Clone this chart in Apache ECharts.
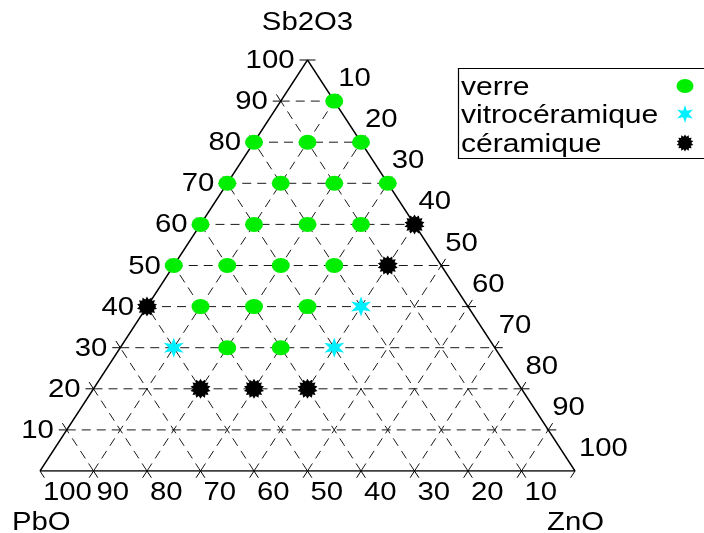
<!DOCTYPE html>
<html>
<head>
<meta charset="utf-8">
<script src="https://cdn.jsdelivr.net/npm/echarts@6/dist/echarts.min.js"></script>
<style>
html,body{margin:0;padding:0;background:#fff;}
#chart{width:704px;height:533px;}
</style>
</head>
<body>
<div id="chart"></div>
<script>
// ---- data (compositions as [PbO, ZnO, Sb2O3] in %) ----
var verre = [
  [0,10,90],
  [20,0,80],[10,10,80],[0,20,80],
  [30,0,70],[20,10,70],[10,20,70],[0,30,70],
  [40,0,60],[30,10,60],[20,20,60],[10,30,60],
  [50,0,50],[40,10,50],[30,20,50],[20,30,50],
  [50,10,40],[40,20,40],[30,30,40],
  [50,20,30],[40,30,30]
];
var vitroceramique = [[20,40,40],[60,10,30],[30,40,30]];
var ceramique = [[0,40,60],[10,40,50],[60,0,40],[60,20,20],[50,30,20],[40,40,20]];
var seriesNames = ['verre','vitrocéramique','céramique'];
var gridValues = [10,20,30,40,50,60,70,80,90];
var leftTicks = ['10','20','30','40','50','60','70','80','90','100'];     // Sb2O3
var rightTicks = ['10','20','30','40','50','60','70','80','90','100'];    // ZnO
var bottomTicks = ['100','90','80','70','60','50','40','30','20','10'];   // PbO
var vertexNames = ['Sb2O3','PbO','ZnO'];

// ternary -> cartesian data coords (x in 0..100, y in 0..100)
function tern(c){ return [c[1] + c[2]/2, c[2]]; }

// grid lines
var lines = [];
gridValues.forEach(function(v){
  var a, b;
  a = tern([100-v,0,v]); b = tern([0,100-v,v]);
  lines.push([a[0],a[1],b[0],b[1],1,0,1,1]);
  a = tern([100-v,v,0]); b = tern([0,v,100-v]);
  lines.push([a[0],a[1],b[0],b[1],0.5,1,1,1]);
  a = tern([v,100-v,0]); b = tern([v,0,100-v]);
  lines.push([a[0],a[1],b[0],b[1],-0.5,1,1,1]);
});
var apex = tern([0,0,100]), bl = tern([100,0,0]), br = tern([0,100,0]);
lines.push([apex[0],apex[1],apex[0],apex[1],1,0,1,1]);
lines.push([br[0],br[1],br[0],br[1],0.5,1,1,0]);
lines.push([bl[0],bl[1],bl[0],bl[1],-0.5,1,1,0]);

var outline = [bl, br, apex, bl];

function starPath(n, rOut, rIn){
  var s = 'path://';
  for (var i=0;i<2*n;i++){
    var ang = (-90 + i*180/n) * Math.PI/180;
    var r = (i%2) ? rIn : rOut;
    s += (i?'L':'M') + (50+r*Math.cos(ang)).toFixed(2) + ',' + (50+r*Math.sin(ang)).toFixed(2);
  }
  return s + 'Z';
}
function starPts(n, rOut, rIn, cx, cy){
  var p = [];
  for (var i=0;i<2*n;i++){
    var ang = (-90 + i*180/n) * Math.PI/180;
    var r = (i%2) ? rIn : rOut;
    p.push([cx+r*Math.cos(ang), cy+r*Math.sin(ang)]);
  }
  return p;
}
var ellipsePath = 'path://M0,50A50,50 0 1 1 100,50A50,50 0 1 1 0,50Z';
var star6 = starPath(6, 50, 21);
var spiky = starPath(14, 50, 37);

var FONT = '25.5px "Liberation Sans", Arial, sans-serif';
var SX = 1.15;
function txt(x, y, text, align, sx){
  return {type:'text', x:x, y:y, scaleX: sx || SX, originX:0, originY:0,
    style:{text:text, font:FONT, fill:'#000', align:align, textAlign:align,
      verticalAlign:'middle', textVerticalAlign:'middle'}};
}

function lineItem(params, api){
  var a = api.coord([api.value(0), api.value(1)]);
  var b = api.coord([api.value(2), api.value(3)]);
  var o = api.coord([0,0]), e = api.coord([api.value(4), api.value(5)]);
  var ux = e[0]-o[0], uy = e[1]-o[1], len = Math.sqrt(ux*ux+uy*uy);
  ux /= len; uy /= len;
  var L = 8, ch = [];
  if (Math.abs(a[0]-b[0]) + Math.abs(a[1]-b[1]) > 0.5) {
    ch.push({type:'line', shape:{x1:a[0],y1:a[1],x2:b[0],y2:b[1]},
      style:{stroke:'#1a1a1a', lineWidth:1, lineDash:[9,6]}});
  }
  if (api.value(6)) ch.push({type:'line', shape:{x1:a[0]-ux*L,y1:a[1]-uy*L,x2:a[0],y2:a[1]},
      style:{stroke:'#000', lineWidth:1}});
  if (api.value(7)) ch.push({type:'line', shape:{x1:b[0],y1:b[1],x2:b[0]+ux*L,y2:b[1]+uy*L},
      style:{stroke:'#000', lineWidth:1}});
  return {type:'group', children:ch};
}

var leftPos = leftTicks.map(function(t){ var v=+t; return tern([100-v,0,v]); });
var rightPos = rightTicks.map(function(t){ var v=+t; return tern([0,v,100-v]); });
var bottomPos = bottomTicks.map(function(t){ var v=+t; return tern([v,100-v,0]); });
var vertexPos = [apex, bl, br];

var chart = echarts.init(document.getElementById('chart'), null, {renderer:'canvas'});
chart.setOption({
  animation:false,
  backgroundColor:'#fff',
  grid:{left:40, right:129, top:60, bottom:62},
  xAxis:{type:'value', min:0, max:100, show:false},
  yAxis:{type:'value', min:0, max:100, show:false},
  series:[
    {type:'custom', name:'grid', clip:false, silent:true, z:1,
      renderItem:lineItem, data:lines},
    {type:'line', name:'outline', data:outline, symbol:'none', silent:true, z:2,
      lineStyle:{color:'#000', width:1.4}},
    {type:'custom', name:'leftLabels', clip:false, silent:true,
      renderItem:function(p, api){ var c = api.coord([api.value(0), api.value(1)]);
        return txt(c[0]-13, c[1]+1, leftTicks[p.dataIndex], 'right'); },
      data:leftPos},
    {type:'custom', name:'rightLabels', clip:false, silent:true,
      renderItem:function(p, api){ var c = api.coord([api.value(0), api.value(1)]);
        return txt(c[0]+4, c[1]-22, rightTicks[p.dataIndex], 'left'); },
      data:rightPos},
    {type:'custom', name:'bottomLabels', clip:false, silent:true,
      renderItem:function(p, api){ var c = api.coord([api.value(0), api.value(1)]);
        return txt(c[0]+3, c[1]+22, bottomTicks[p.dataIndex], 'left'); },
      data:bottomPos},
    {type:'custom', name:'vertexLabels', clip:false, silent:true,
      renderItem:function(p, api){ var c = api.coord([api.value(0), api.value(1)]);
        if (p.dataIndex === 0) return txt(c[0], c[1]-37, vertexNames[0], 'center');
        return txt(c[0]-28, c[1]+52, vertexNames[p.dataIndex], 'left'); },
      data:vertexPos},
    {type:'scatter', name:seriesNames[0], data:verre.map(tern), symbol:ellipsePath,
      symbolSize:[18,15], itemStyle:{color:'#00ee00', opacity:1}, z:5},
    {type:'scatter', name:seriesNames[1], data:vitroceramique.map(tern), symbol:star6,
      symbolSize:20, itemStyle:{color:'#00f0ff', opacity:1}, z:5},
    {type:'scatter', name:seriesNames[2], data:ceramique.map(tern), symbol:spiky,
      symbolSize:20, itemStyle:{color:'#000', opacity:1}, z:5}
  ],
  graphic:[
    {type:'rect', shape:{x:458.5, y:68.5, width:260, height:90},
      style:{fill:'#fff', stroke:'#000', lineWidth:1.2}, z:10},
    (function(){ var t = txt(461, 88, seriesNames[0], 'left', 1.18); t.z=11; return t; })(),
    (function(){ var t = txt(461, 116, seriesNames[1], 'left', 1.18); t.z=11; return t; })(),
    (function(){ var t = txt(461, 145, seriesNames[2], 'left', 1.18); t.z=11; return t; })(),
    {type:'circle', x:685, y:86, scaleY:0.82, shape:{cx:0, cy:0, r:8.5},
      style:{fill:'#00ee00'}, z:11},
    {type:'polygon', shape:{points:starPts(6, 9, 3.8, 685, 114)},
      style:{fill:'#00f0ff'}, z:11},
    {type:'polygon', shape:{points:starPts(14, 8.5, 6.3, 685, 143)},
      style:{fill:'#000'}, z:11}
  ]
});
</script>
</body>
</html>
